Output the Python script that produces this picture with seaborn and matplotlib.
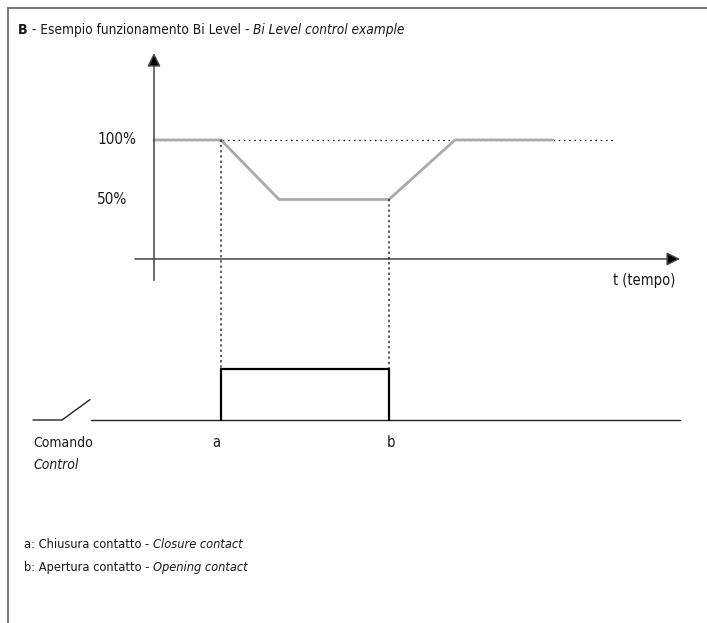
import seaborn as sns
import matplotlib.pyplot as plt
from matplotlib.lines import Line2D
from matplotlib.patches import ConnectionPatch

# --- values (time in arbitrary units, 0 = vertical axis) ---
level_t = [0, 67, 125, 235, 301, 399]
level_pct = [100, 100, 50, 50, 100, 100]
ref_t = [0, 459]            # dotted 100% reference line
ref_pct = [100, 100]
t_a, t_b = 67, 235          # contact closes / opens

ctrl_t = [67, 67, 235, 235]
ctrl_state = [0, 1, 1, 0]
baseline_t = [-63, 526]
switch_t = [-121, -92, -64]
switch_state = [0, 0, 0.4]

tick_pct = [100, 50]
tick_labels = ["100%", "50%"]

W, H = 707, 623

sns.set_style("white")
plt.rcParams["font.family"] = ["DejaVu Sans"]
plt.rcParams["font.stretch"] = "condensed"
plt.rcParams["text.color"] = "#1a1a1a"

fig = plt.figure(figsize=(W / 100, H / 100), dpi=100)
ax = fig.add_axes([0, 0, 1, 1])
ax2 = ax.twinx()


def fp(x, y):
    # pixel position -> figure fraction
    return x / W, 1 - y / H


# frame (top and left edges only)
fig.add_artist(Line2D([8 / W, 1], [1 - 8 / H] * 2, color="#777777", lw=1.4))
fig.add_artist(Line2D([8 / W] * 2, [0, 1 - 8 / H], color="#777777", lw=1.4))

# level curve
ax.plot(ref_t, ref_pct, color="k", lw=0.9, dashes=(1.2, 3))
sns.lineplot(x=level_t, y=level_pct, ax=ax, estimator=None, sort=False,
             color="#aaaaaa", lw=2.0)

# axes with arrows
arrow = dict(arrowstyle="-|>", edgecolor="#444444", facecolor="black",
             lw=1.1, mutation_scale=20, shrinkA=0, shrinkB=0)
ax.annotate("", xy=(0, 173), xytext=(0, -18), arrowprops=arrow)
ax.annotate("", xy=(526, 0), xytext=(-19, 0), arrowprops=arrow)

# control signal
ax2.plot(baseline_t, [0, 0], color="#222222", lw=1.0)
ax2.plot(switch_t, switch_state, color="#222222", lw=1.0)
sns.lineplot(x=ctrl_t, y=ctrl_state, ax=ax2, estimator=None, sort=False,
             color="k", lw=1.6)

# dotted links between level curve and control pulse
for t, p in [(t_a, 100), (t_b, 50)]:
    con = ConnectionPatch(xyA=(t, p), coordsA=ax.transData,
                          xyB=(t, 1), coordsB=ax2.transData,
                          color="k", lw=0.9, linestyle=(0, (1.2, 3)))
    fig.add_artist(con)

ax.set_xlim(-154, 553)
ax.set_ylim(-305.9, 217.6)
ax2.set_ylim(-3.98, 8.235)
ax.axis("off")
ax2.axis("off")

# texts
for p, lab in zip(tick_pct, tick_labels):
    ax.text(-57, p, lab, fontsize=11, ha="left", va="center")

fig.text(*fp(613, 280), "t (tempo)", fontsize=10.5, va="center")
fig.text(*fp(33, 443), "Comando", fontsize=10, va="center")
fig.text(*fp(33, 465), "Control", fontsize=10, va="center", style="italic")
ax2.text(t_a - 5, -0.45, "a", fontsize=10.5, ha="center", va="center")
ax2.text(t_b + 2, -0.45, "b", fontsize=10.5, ha="center", va="center")

# title, built from three pieces
fs = 9.8
t1 = fig.text(*fp(18, 30), "B", fontsize=fs + 0.5, fontweight="bold",
              va="center")
t2 = ax.annotate(" - Esempio funzionamento Bi Level - ", xy=(1, 0.5),
                 xycoords=t1, va="center", fontsize=fs)
ax.annotate("Bi Level control example", xy=(1, 0.5), xycoords=t2,
            va="center", fontsize=fs, style="italic")

# footer notes
notes = [("a: Chiusura contatto - ", "Closure contact", 545),
         ("b: Apertura contatto - ", "Opening contact", 568)]
for plain, ital, y in notes:
    n1 = fig.text(*fp(24, y), plain, fontsize=9.2, va="center")
    ax.annotate(ital, xy=(1, 0.5), xycoords=n1, va="center",
                fontsize=9.2, style="italic")

fig.savefig("out.png", dpi=100)
